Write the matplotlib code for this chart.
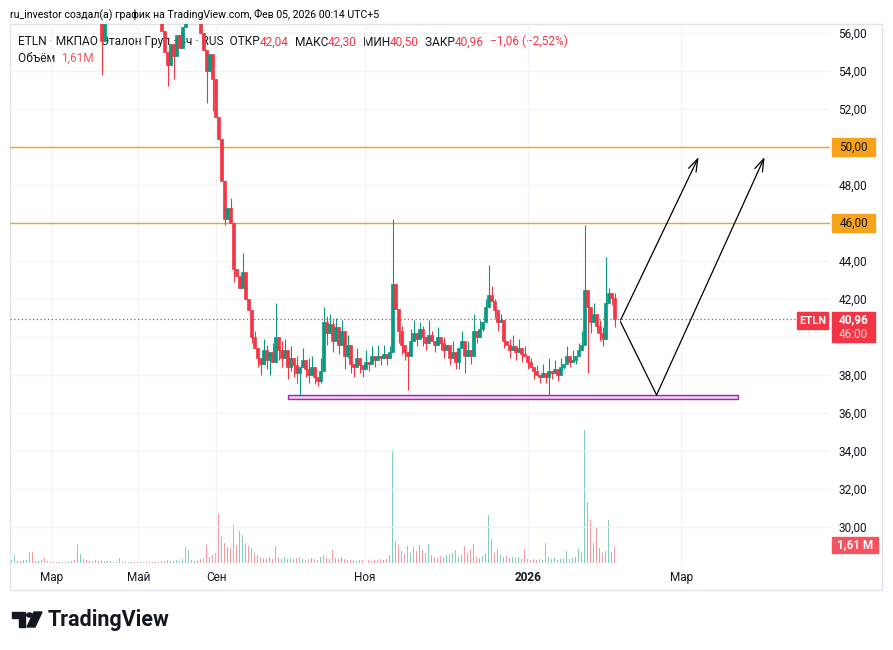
import numpy as np
import matplotlib.pyplot as plt
from matplotlib.patches import Rectangle, Polygon, Circle

plt.rcParams['font.family'] = ['Roboto', 'DejaVu Sans']

# 4h bars of ETLN, grouped roughly three real bars per drawn candle
closes = [
    58.8, 59.4, 60.1, 59.6, 60.3, 61.0, 60.2, 59.5, 59.9, 60.6,
    61.2, 60.8, 60.1, 59.7, 60.4, 60.0, 59.3, 59.8, 60.5, 60.9,
    60.3, 59.6, 58.9, 59.4, 58.7, 58.2, 58.9, 58.4, 57.8, 57.3,
    55.6, 56.9, 57.6, 58.1, 58.8, 59.5, 60.2, 59.7, 60.4, 61.1,
    60.6, 60.0, 59.4, 59.9, 59.2, 58.6, 58.9, 58.3, 57.8, 57.2,
    56.1, 55.0, 54.3, 55.4, 54.8, 55.9, 55.2, 56.3, 57.4, 58.2,
    57.6, 57.9, 57.0, 56.0, 55.1, 54.0, 54.9, 53.6, 51.6, 50.4,
    48.2, 46.2, 46.8, 46.0, 43.6, 43.2, 42.6, 43.4, 42.0, 41.4,
    40.0, 39.4, 38.9, 38.6, 39.3, 38.8, 39.2, 38.7, 40.0, 39.3,
    38.9, 39.3, 38.4, 38.9, 38.5, 38.1, 38.4, 38.8, 38.3, 38.0,
    38.4, 37.9, 37.7, 38.2, 40.8, 40.2, 40.7, 39.8, 40.5, 39.6,
    40.3, 39.0, 39.6, 38.6, 38.4, 38.9, 38.5, 38.3, 38.7, 38.6,
    39.0, 38.8, 39.0, 38.9, 39.1, 38.9, 39.2, 42.8, 41.5, 40.3,
    39.6, 39.2, 39.0, 39.8, 40.2, 39.9, 40.4, 40.0, 39.7, 40.1,
    39.8, 39.6, 40.0, 39.7, 39.3, 39.6, 38.9, 39.2, 38.7, 39.4,
    39.8, 39.0, 39.3, 39.0, 40.3, 40.0, 40.4, 40.8, 41.6, 42.2,
    41.9, 41.4, 40.8, 40.9, 39.8, 39.6, 39.3, 39.5, 39.2, 39.4,
    39.1, 39.0, 38.7, 38.4, 38.2, 38.0, 37.9, 38.1, 37.9, 38.2,
    38.1, 38.3, 38.0, 38.4, 38.6, 39.0, 38.7, 38.8, 39.0, 39.3,
    39.6, 42.5, 41.6, 40.8, 41.2, 40.6, 40.2, 39.9, 41.8, 42.3,
    42.04, 40.96,
]
# wicks that reach beyond the candle body
wick_high = {30: 57.8, 73: 47.3, 77: 44.4, 81: 40.3, 84: 39.9, 85: 39.6,
             87: 39.7, 88: 41.8, 90: 39.8, 91: 39.9, 93: 39.5, 95: 39.0,
             97: 39.4, 99: 38.9, 100: 39.0, 103: 38.9, 104: 41.6, 105: 41.1,
             106: 41.2, 107: 40.9, 108: 41.0, 110: 40.9, 112: 40.1, 113: 39.5,
             115: 39.4, 118: 39.3, 120: 39.5, 122: 39.6, 124: 39.6, 126: 39.5,
             127: 46.2, 128: 42.4, 129: 41.0, 130: 40.6, 133: 40.4, 134: 40.9,
             136: 40.8, 137: 40.6, 139: 40.9, 140: 40.3, 142: 40.5, 144: 40.0,
             146: 39.5, 147: 39.8, 150: 40.3, 152: 39.8, 154: 41.2, 156: 40.9,
             158: 42.0, 159: 43.8, 160: 42.7, 161: 42.0, 163: 41.2, 164: 40.5,
             166: 39.9, 167: 40.1, 169: 39.9, 171: 39.5, 173: 38.9, 175: 38.5,
             177: 38.6, 179: 38.9, 181: 38.8, 183: 38.9, 185: 39.5, 187: 39.3,
             189: 39.7, 190: 40.3, 191: 45.9, 192: 42.3, 193: 41.3, 194: 41.8,
             196: 40.9, 197: 40.5, 198: 44.2, 199: 42.6, 200: 42.3, 201: 42.3}
wick_low = {30: 53.8, 52: 53.2, 54: 53.6, 65: 52.3, 67: 51.9, 71: 45.9,
            74: 42.9, 80: 39.7, 82: 38.4, 83: 38.0, 84: 38.6, 85: 38.3,
            86: 38.0, 89: 38.8, 90: 38.4, 92: 37.8, 93: 38.2, 94: 37.9,
            95: 37.6, 96: 36.8, 98: 37.9, 99: 37.6, 101: 37.5, 102: 37.4,
            103: 37.6, 105: 39.6, 107: 39.2, 109: 39.1, 111: 38.3, 112: 38.9,
            113: 38.1, 114: 37.9, 116: 38.1, 117: 37.9, 119: 38.2, 121: 38.4,
            123: 38.5, 125: 38.5, 129: 39.7, 130: 39.1, 131: 38.8, 132: 37.2,
            135: 39.5, 137: 39.5, 138: 39.3, 141: 39.2, 143: 39.3, 144: 38.9,
            146: 38.5, 148: 38.3, 149: 38.3, 151: 38.1, 153: 38.6, 155: 39.7,
            157: 40.3, 161: 41.0, 162: 40.3, 164: 39.4, 166: 38.9, 168: 38.8,
            170: 38.7, 172: 38.3, 174: 37.8, 176: 37.6, 178: 37.6, 179: 36.9,
            180: 37.8, 182: 37.7, 184: 38.3, 186: 38.4, 188: 38.6, 192: 38.1,
            193: 40.2, 195: 40.2, 196: 39.8, 197: 39.5, 200: 41.7, 201: 40.5}
# volume in millions of shares
volume = [
    0.3, 0.8, 0.2, 0.2, 0.3, 0.3, 1.1, 1.1, 0.2, 0.2,
    0.3, 0.5, 0.2, 0.1, 0.1, 0.1, 0.1, 0.1, 0.1, 0.1,
    0.2, 0.3, 1.8, 0.9, 0.4, 0.3, 0.2, 0.2, 0.3, 0.2,
    0.3, 0.2, 0.2, 0.2, 0.1, 0.1, 0.5, 0.2, 0.1, 0.1,
    0.1, 0.1, 0.1, 0.1, 0.1, 0.1, 0.1, 0.1, 0.1, 0.1,
    0.2, 0.2, 0.3, 0.2, 0.2, 0.3, 0.2, 0.4, 1.6, 1.3,
    0.3, 0.2, 0.3, 0.4, 0.5, 1.8, 0.6, 0.8, 1.0, 4.9,
    2.6, 2.0, 1.6, 1.5, 3.8, 1.8, 3.2, 2.8, 2.0, 1.7,
    1.5, 1.0, 0.8, 0.6, 0.5, 0.4, 0.6, 0.4, 1.7, 0.5,
    0.4, 0.6, 0.4, 0.5, 0.4, 0.5, 0.6, 0.4, 0.3, 0.4,
    0.5, 0.4, 0.3, 0.6, 0.8, 0.5, 0.4, 1.3, 0.5, 0.4,
    0.6, 0.4, 0.3, 0.3, 0.3, 0.2, 0.3, 0.3, 0.2, 0.3,
    0.2, 0.3, 0.3, 0.4, 0.3, 0.4, 0.8, 11.3, 2.2, 1.8,
    1.2, 0.9, 1.7, 1.0, 1.6, 1.2, 1.8, 1.3, 1.0, 1.9,
    0.8, 0.6, 0.5, 0.7, 0.6, 0.8, 0.9, 1.0, 1.3, 0.6,
    0.8, 1.7, 1.0, 1.4, 1.9, 0.6, 0.5, 0.7, 0.9, 4.8,
    2.4, 1.0, 1.4, 0.8, 0.6, 0.7, 0.5, 0.6, 0.5, 0.6,
    0.4, 1.4, 0.4, 0.3, 0.4, 0.3, 0.4, 0.3, 2.0, 0.6,
    0.4, 0.5, 0.3, 0.4, 0.4, 1.2, 0.4, 0.5, 0.6, 1.4,
    1.0, 13.3, 6.1, 4.3, 2.0, 3.5, 1.5, 1.0, 1.2, 4.3,
    1.1, 1.61,
]
month_pos = [13.3, 42.3, 68.3, 117.7, 172.3, 223.3]
month_names = ['Мар', 'Май', 'Сен', 'Ноя', '2026', 'Мар']
levels = [50.0, 46.0]
support = (92, 242, 36.74, 36.95)
arrow_a = [(203, 40.79), (215, 36.95), (251, 49.47)]
arrow_b = [(203, 40.89), (229, 49.47)]

W, H = 893, 650
UP, DOWN = '#089981', '#f23645'
TXT = '#131722'

fig = plt.figure(figsize=(W / 100, H / 100), dpi=100)
ax = fig.add_axes([10 / W, 1 - 563 / H, 820 / W, 539 / H])
axv = ax.twinx()
axv.set_zorder(ax.get_zorder() - 1)
ax.patch.set_visible(False)

n = len(closes)
idx = np.arange(n)
opens = np.array([closes[0]] + closes[:-1])
opens[-1] = 42.04
c = np.array(closes)
hi = np.maximum(opens, c)
lo = np.minimum(opens, c)
for k, v in wick_high.items():
    hi[k] = max(hi[k], v)
for k, v in wick_low.items():
    lo[k] = min(lo[k], v)
cols = np.where(c >= opens, UP, DOWN)

ax.vlines(idx, lo, hi, colors=cols, lw=0.8, zorder=3)
ax.bar(idx, c - opens, bottom=opens, width=0.75, color=cols,
       edgecolor=cols, linewidth=0.5, zorder=3)
axv.bar(idx, volume, width=0.5, color=cols, alpha=0.5, linewidth=0)

ax.set_xlim(-0.5, 272.8)
ax.set_ylim(28.105, 56.474)
axv.set_ylim(0, 53.9)
axv.set_yticks([])
for a in (ax, axv):
    for s in a.spines.values():
        s.set_visible(False)

ax.set_xticks(month_pos)
ax.set_xticklabels(month_names)
ax.get_xticklabels()[4].set_fontweight('bold')
yt = np.arange(30, 57, 2)
ax.set_yticks(yt)
# 40,00 sits under the last-price badge
ax.set_yticklabels(['' if v == 40 else f'{v:.2f}'.replace('.', ',') for v in yt])
ax.yaxis.tick_right()
ax.tick_params(axis='both', length=0, labelsize=8.5, labelcolor=TXT)
ax.tick_params(axis='y', pad=6)
ax.tick_params(axis='x', pad=6)
ax.grid(True, color='#f0f3fa', lw=0.9, zorder=0)

for lv in levels:
    ax.axhline(lv, color='#f7a21b', lw=1.0, zorder=2)
ax.axhline(closes[-1], color=DOWN, lw=0.9, ls=(0, (1, 2)), zorder=2)

x0, x1, y0, y1 = support
ax.add_patch(Rectangle((x0, y0), x1 - x0, y1 - y0, facecolor='#f6c8f8',
                       edgecolor='#9c27b0', lw=1.0, zorder=4))

xs, ys = zip(*arrow_a)
ax.plot(xs[:-1], ys[:-1], color='black', lw=0.9, zorder=5)
ax.annotate('', xy=arrow_a[2], xytext=arrow_a[1],
            arrowprops=dict(arrowstyle='->,head_length=0.9,head_width=0.3',
                            color='black', lw=0.9, shrinkA=0, shrinkB=0), zorder=5)
ax.annotate('', xy=arrow_b[1], xytext=arrow_b[0],
            arrowprops=dict(arrowstyle='->,head_length=0.9,head_width=0.3',
                            color='black', lw=0.9, shrinkA=0, shrinkB=0), zorder=5)

# header and legend
fig.text(10 / W, 1 - 14 / H, 'ru_investor создал(а) график на TradingView.com, Фев 05, 2026 00:14 UTC+5',
         fontsize=7.6, color='black', va='center')


def chain(parts, x, y, size):
    prev = ax.text(x / W, 1 - y / H, parts[0][0], color=parts[0][1], fontsize=size,
                   va='center', transform=fig.transFigure, zorder=1)
    for s, col in parts[1:]:
        prev = ax.annotate(s, xy=(1, 0), xycoords=prev, color=col, fontsize=size,
                           va='bottom', ha='left', zorder=1)


chain([('ETLN · МКПАО Эталон Груп · 4ч · RUS  ОТКР', TXT), ('42,04', DOWN),
       ('  МАКС', TXT), ('42,30', DOWN), ('  МИН', TXT), ('40,50', DOWN),
       ('  ЗАКР', TXT), ('40,96', DOWN), ('  −1,06 (−2,52%)', DOWN)], 18, 42, 8.6)
chain([('Объём  ', TXT), ('1,61M', '#f7525f')], 18, 58, 8.6)


def badge(bx0, by0, bx1, by1, color):
    fig.add_artist(Rectangle((bx0 / W, 1 - by1 / H), (bx1 - bx0) / W, (by1 - by0) / H,
                             transform=fig.transFigure, color=color, zorder=5))


for lv in levels:
    yp = 147 + (50 - lv) * 19
    badge(832, yp - 9, 875, yp + 9, '#f7a21b')
    fig.text(853.5 / W, 1 - yp / H, f'{lv:.2f}'.replace('.', ','), fontsize=8.5,
             color=TXT, ha='center', va='center', zorder=6)
badge(797, 312, 828, 329, DOWN)
fig.text(812.5 / W, 1 - 320.5 / H, 'ETLN', fontsize=8, color='white',
         weight='bold', ha='center', va='center', zorder=6)
badge(832, 312, 875, 342, DOWN)
fig.text(853.5 / W, 1 - 320 / H, '40,96', fontsize=8.5, color='white',
         weight='bold', ha='center', va='center', zorder=6)
fig.text(853.5 / W, 1 - 334 / H, '46:00', fontsize=8.5, color='#ffd6da',
         ha='center', va='center', zorder=6)
badge(832, 537, 878, 553, '#f7525f')
fig.text(855 / W, 1 - 545 / H, '1,61 M', fontsize=8.5, color='white',
         weight='bold', ha='center', va='center', zorder=6)

# chart frame
fig.add_artist(Rectangle((10 / W, 1 - 590 / H), 872 / W, 566 / H, transform=fig.transFigure,
                         fill=False, edgecolor='#e0e3eb', lw=1.0, zorder=0))

# TradingView logo
tf = fig.transFigure
def P(x, y):
    return (x / W, 1 - y / H)
fig.add_artist(Polygon([P(12, 612), P(25, 612), P(25, 627), P(19, 627), P(19, 618), P(12, 618)],
                       closed=True, transform=tf, color=TXT))
fig.add_artist(Polygon([P(34, 612), P(42, 612), P(35, 627), P(27, 627)],
                       closed=True, transform=tf, color=TXT))
fig.add_artist(Circle(P(29.5, 615), 2.8 / W, transform=tf, color=TXT))
fig.text(48 / W, 1 - 620 / H, 'TradingView', fontsize=15.5, weight='bold', color=TXT, va='center')

fig.savefig('out.png', dpi=100)
